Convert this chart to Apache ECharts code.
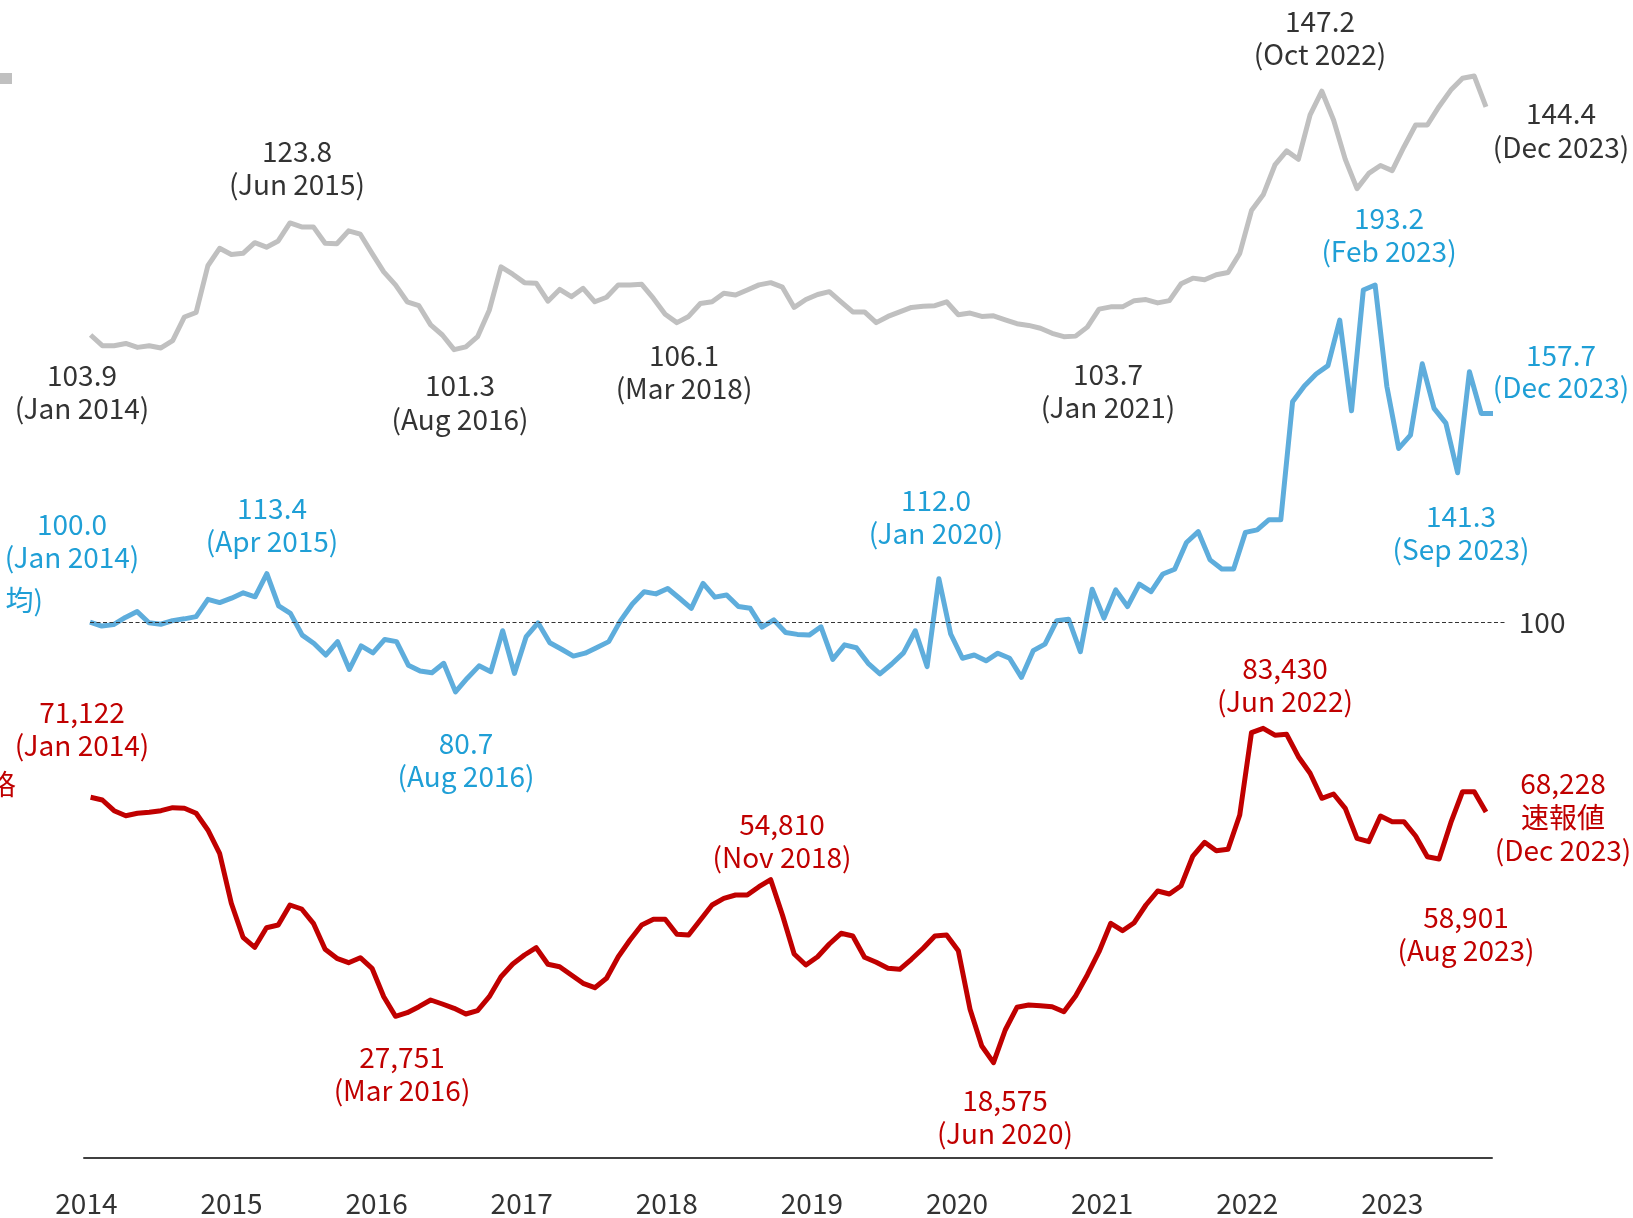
<!DOCTYPE html>
<html>
<head>
<meta charset="utf-8">
<title>chart</title>
<script src="https://cdn.jsdelivr.net/npm/echarts@6/dist/echarts.min.js"></script>
<style>
  html, body { margin: 0; padding: 0; background: #fff; }
  #main { width: 1633px; height: 1218px; }
</style>
</head>
<body>
<div id="main"></div>
<script>
  // 月次データ Jan 2014 - Dec 2023
  var years = [2014, 2015, 2016, 2017, 2018, 2019, 2020, 2021, 2022, 2023];

  // 為替 (円/ドル)
  var fxRate = [
    103.9, 102.0, 102.0, 102.4, 101.7, 102.0, 101.6, 102.9, 107.1, 107.9, 116.2, 119.3,
    118.2, 118.4, 120.3, 119.5, 120.6, 123.8, 123.1, 123.1, 120.2, 120.1, 122.4, 121.8,
    118.4, 115.1, 112.8, 109.8, 109.1, 105.7, 103.9, 101.3, 101.8, 103.6, 108.3, 116.0,
    114.7, 113.2, 113.1, 109.9, 112.0, 110.7, 112.2, 109.8, 110.6, 112.8, 112.8, 112.9,
    110.4, 107.6, 106.1, 107.2, 109.5, 109.8, 111.3, 111.0, 111.9, 112.8, 113.2, 112.4,
    108.8, 110.2, 111.1, 111.6, 109.8, 108.0, 108.0, 106.1, 107.2, 108.0, 108.8, 109.0,
    109.1, 109.8, 107.5, 107.8, 107.2, 107.3, 106.6, 105.9, 105.6, 105.1, 104.2, 103.6,
    103.7, 105.3, 108.5, 108.9, 108.9, 110.0, 110.2, 109.6, 110.0, 113.0, 114.0, 113.7,
    114.6, 115.0, 118.4, 126.0, 128.8, 134.1, 136.6, 135.1, 143.0, 147.2, 142.1, 135.1,
    129.9, 132.6, 134.0, 133.1, 137.3, 141.2, 141.2, 144.5, 147.4, 149.5, 149.9, 144.4
  ];

  // 指数 (Jan 2014 = 100)
  var priceIndex = [
    100.0, 98.9, 99.3, 101.3, 102.9, 99.8, 99.4, 100.4, 100.9, 101.5, 106.3, 105.4,
    106.6, 108.1, 107.0, 113.4, 104.5, 102.4, 96.4, 94.1, 90.9, 94.6, 86.9, 93.4,
    91.5, 95.2, 94.6, 88.1, 86.5, 86.0, 88.6, 80.7, 84.5, 87.9, 86.3, 97.6,
    85.8, 96.0, 99.8, 94.3, 92.5, 90.6, 91.4, 93.0, 94.6, 100.4, 105.0, 108.4,
    107.8, 109.3, 106.6, 103.8, 110.7, 106.9, 107.5, 104.3, 103.8, 98.6, 100.6, 97.1,
    96.6, 96.4, 98.7, 89.7, 93.7, 92.9, 88.6, 85.7, 88.4, 91.5, 97.6, 87.7,
    112.0, 96.7, 90.0, 90.9, 89.3, 91.4, 90.0, 84.7, 92.1, 93.9, 100.4, 100.8,
    91.8, 109.1, 101.1, 108.9, 104.3, 110.5, 108.4, 113.3, 114.6, 122.0, 125.0, 117.2,
    114.7, 114.7, 124.8, 125.5, 128.3, 128.3, 160.9, 165.3, 168.6, 170.9, 183.5, 158.4,
    191.8, 193.2, 165.1, 148.0, 151.7, 171.4, 159.1, 155.0, 141.3, 169.2, 157.7, 157.7
  ];

  // 原油価格 (円/kl)
  var crudePrice = [
    71122, 70587, 68469, 67478, 67954, 68152, 68469, 69063, 68944, 67954, 64647, 60033,
    50132, 43399, 41419, 45300, 45835, 49795, 49003, 46172, 41023, 39241, 38370, 39360,
    37261, 31637, 27751, 28469, 29657, 30983, 30191, 29340, 28211, 28865, 31637, 35597,
    38112, 39894, 41340, 38053, 37577, 35934, 34290, 33419, 35280, 39558, 42865, 45835,
    46964, 46964, 43993, 43855, 46825, 49795, 51122, 51775, 51775, 53419, 54810, 47815,
    40092, 37914, 39558, 42072, 44191, 43657, 39439, 38449, 37261, 37063, 39043, 41221,
    43657, 43855, 40746, 29142, 21874, 18575, 25043, 29538, 29993, 29855, 29657, 28667,
    31775, 35934, 40548, 46172, 44706, 46290, 49795, 52568, 51973, 53617, 59498, 62211,
    60548, 60825, 67617, 83914, 84785, 83430, 83597, 79162, 75874, 70924, 71775, 68944,
    63003, 62330, 67419, 66290, 66290, 63459, 59360, 58901, 66092, 72231, 72231, 68228
  ];

  // 注記 [text, x, y]
  var grayNotes = [
    ['103.9', 82, 375], ['(Jan 2014)', 82, 408],
    ['123.8', 297, 151], ['(Jun 2015)', 297, 184],
    ['101.3', 460, 385], ['(Aug 2016)', 460, 419],
    ['106.1', 684, 355], ['(Mar 2018)', 684, 388],
    ['103.7', 1108, 374], ['(Jan 2021)', 1108, 407],
    ['147.2', 1320, 21], ['(Oct 2022)', 1320, 54],
    ['144.4', 1561, 113], ['(Dec 2023)', 1561, 147]
  ];
  var blueNotes = [
    ['100.0', 72, 524], ['(Jan 2014)', 72, 557],
    ['113.4', 272, 508], ['(Apr 2015)', 272, 541],
    ['80.7', 466, 743], ['(Aug 2016)', 466, 776],
    ['112.0', 936, 500], ['(Jan 2020)', 936, 533],
    ['193.2', 1389, 218], ['(Feb 2023)', 1389, 251],
    ['157.7', 1561, 355], ['(Dec 2023)', 1561, 387],
    ['141.3', 1461, 516], ['(Sep 2023)', 1461, 549]
  ];
  var redNotes = [
    ['71,122', 82, 712], ['(Jan 2014)', 82, 745],
    ['27,751', 402, 1057], ['(Mar 2016)', 402, 1090],
    ['54,810', 782, 824], ['(Nov 2018)', 782, 857],
    ['18,575', 1005, 1100], ['(Jun 2020)', 1005, 1133],
    ['83,430', 1285, 668], ['(Jun 2022)', 1285, 701],
    ['68,228', 1563, 783], ['速報値', 1563, 817], ['(Dec 2023)', 1563, 850],
    ['58,901', 1466, 917], ['(Aug 2023)', 1466, 950]
  ];

  var FONT = "'Noto Sans CJK JP', 'Noto Sans', sans-serif";
  var FS = 28;
  var GRAY = '#c0c0c0', BLUE = '#5eaddc', BLUE_TXT = '#1f9fd6', RED = '#c00000', DARK = '#333333';

  function toPairs(arr) {
    return arr.map(function (v, i) { return [i, v]; });
  }

  function noteTexts(list, color) {
    return list.map(function (n) {
      return {
        type: 'text', x: n[1], y: n[2], silent: true,
        style: {
          text: n[0], fill: color, font: FS + 'px ' + FONT,
          textAlign: 'center', textVerticalAlign: 'middle'
        }
      };
    });
  }

  var graphics = [].concat(
    noteTexts(grayNotes, DARK),
    noteTexts(blueNotes, BLUE_TXT),
    noteTexts(redNotes, RED),
    [
      // 左端で切れている凡例
      { type: 'rect', shape: { x: -6, y: 73, width: 18, height: 11 }, style: { fill: GRAY }, silent: true },
      { type: 'text', x: 43, y: 600, silent: true,
        style: { text: '均)', fill: BLUE_TXT, font: FS + 'px ' + FONT, textAlign: 'right', textVerticalAlign: 'middle' } },
      { type: 'text', x: 16, y: 784, silent: true,
        style: { text: '価格', fill: RED, font: FS + 'px ' + FONT, textAlign: 'right', textVerticalAlign: 'middle' } }
    ]
  );

  var chart = echarts.init(document.getElementById('main'));
  chart.setOption({
    animation: false,
    backgroundColor: '#fff',
    textStyle: { fontFamily: FONT },
    grid: [
      { left: 84, top: 20, width: 1426, height: 1139 },
      { left: 84, top: 1157, width: 1408, height: 1 }
    ],
    xAxis: [
      { type: 'value', gridIndex: 0, min: -0.563, max: 121.047, show: false },
      { type: 'value', gridIndex: 0, min: -0.509, max: 120.441, show: false },
      {
        type: 'value', gridIndex: 1, min: 2013.9835, max: 2023.687,
        axisLine: { show: true, lineStyle: { color: '#404040', width: 2 } },
        axisTick: { show: false },
        splitLine: { show: false },
        axisLabel: {
          customValues: years,
          formatter: function (v) { return String(Math.round(v)); },
          color: DARK, fontSize: FS, fontFamily: FONT, margin: 31
        }
      }
    ],
    yAxis: [
      { type: 'value', gridIndex: 0, min: -42.46, max: 159.85, show: false },
      { type: 'value', gridIndex: 0, min: -48.44, max: 266.46, show: false },
      { type: 'value', gridIndex: 0, min: -502, max: 225043, show: false },
      { type: 'value', gridIndex: 1, show: false }
    ],
    series: [
      {
        name: '為替', type: 'line', xAxisIndex: 0, yAxisIndex: 0,
        data: toPairs(fxRate), showSymbol: false, silent: true,
        lineStyle: { color: GRAY, width: 5, join: 'round' }
      },
      {
        name: '指数', type: 'line', xAxisIndex: 1, yAxisIndex: 1,
        data: toPairs(priceIndex), showSymbol: false, silent: true,
        lineStyle: { color: BLUE, width: 5, join: 'round' },
        markLine: {
          silent: true, symbol: 'none',
          lineStyle: { color: DARK, width: 1, type: [4, 2.5] },
          label: { show: true, position: 'end', distance: 14, formatter: '100', color: DARK, fontSize: FS, fontFamily: FONT },
          data: [[{ coord: [0, 100] }, { coord: [120, 100] }]]
        }
      },
      {
        name: '原油価格', type: 'line', xAxisIndex: 0, yAxisIndex: 2,
        data: toPairs(crudePrice), showSymbol: false, silent: true,
        lineStyle: { color: RED, width: 5, join: 'round' }
      }
    ],
    graphic: graphics
  });
</script>
</body>
</html>
